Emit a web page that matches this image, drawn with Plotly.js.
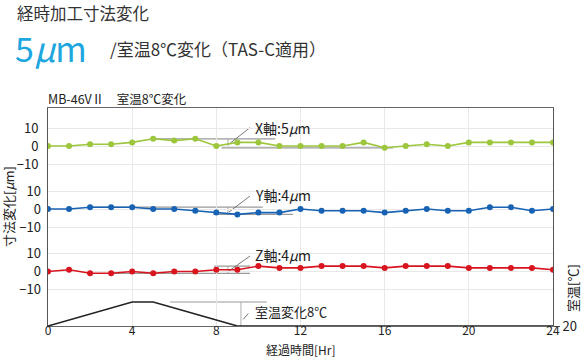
<!DOCTYPE html>
<html>
<head>
<meta charset="utf-8">
<script src="https://cdn.plot.ly/plotly-3.0.1.min.js"></script>
<style>html,body{margin:0;padding:0;background:#fff;}#chart{width:585px;height:360px;}</style>
</head>
<body>
<div id="chart"></div>
<script>
// ---- data ----
const hours = [0,1,2,3,4,5,6,7,8,9,10,11,12,13,14,15,16,17,18,19,20,21,22,23,24];
const xAxisDev = [0,0,1,1,2,4,3,4,0,2,2,0,0,0,0,2,-1,0,1,0,2,2,2,2,2];
const yAxisDev = [0,0,1,1,1,0,0,-1,-2,-3,-2,-2,0,-1,-1,-1,-2,-1,0,-1,-1,1,1,-1,0];
const zAxisDev = [0,1,-1,-1,0,-1,0,0,1,1,3,2,2,3,3,3,2,3,3,3,2,2,2,2,1];
const tempHours = [0,4,5,9,24];
const tempValues = [20,28,28,20,20];
const xTicks = [0,4,8,12,16,20,24];
const devTicks = [-10,0,10];
const tempTicks = [20];
const labels = {x:'X軸:5<i>μ</i>m', y:'Y軸:4<i>μ</i>m', z:'Z軸:4<i>μ</i>m', t:'室温変化8℃'};

// ---- layout geometry ----
const W = 585, H = 360, L = 48, R = 32, T = 108, B = 34;
const plotH = H - T - B, plotW = W - L - R;
const pxPerUnit = 1.8, pxPerDeg = 3;
function devRange(zeroPx){ // zeroPx: pixel row of 0
  const below = (H - B - zeroPx) / pxPerUnit;
  return [-below, plotH / pxPerUnit - below];
}
const FONT = '"Noto Sans CJK JP", "Noto Sans", sans-serif';
const C = {green:'#9cc63b', blue:'#1762b3', red:'#d8141f', cyan:'#1ea6df'};

function devTrace(y, color, axis){
  return {x: hours, y: y, yaxis: axis, type:'scatter', mode:'lines+markers',
    line:{color:color, width:1.6}, marker:{color:color, size:6}, hoverinfo:'skip', showlegend:false};
}
const traces = [
  devTrace(xAxisDev, C.green, 'y'),
  devTrace(yAxisDev, C.blue, 'y2'),
  devTrace(zAxisDev, C.red, 'y3'),
  {x: tempHours, y: tempValues, yaxis:'y4', type:'scatter', mode:'lines',
   line:{color:'#222', width:1.6}, hoverinfo:'skip', showlegend:false}
];

const devAxisBase = {tickvals: devTicks, ticks:'', showgrid:true, gridcolor:'#e8e8e8', gridwidth:1,
  zeroline:false, tickfont:{family:FONT, size:13, color:'#222'}, ticklabelstandoff:6, fixedrange:true};

const gray = '#9a9a9a';
function seg(x0,y0,x1,y1,yref,color,w){
  return {type:'line', xref:'x', yref:yref, x0:x0, y0:y0, x1:x1, y1:y1, line:{color:color||gray, width:w||1.2}, layer:'below'};
}
const mx = a => Math.max(...a), mn = a => Math.min(...a);
const tMax = mx(tempValues), tMin = mn(tempValues);
const shapes = [
  // X
  seg(5.0, mx(xAxisDev), 10.8, mx(xAxisDev), 'y'),
  seg(8.25, mn(xAxisDev), 16.4, mn(xAxisDev), 'y'),
  seg(8.55, mx(xAxisDev), 8.55, mn(xAxisDev), 'y', gray, 0.8),
  seg(8.6, 1, 9.6, 10.2, 'y', '#555', 0.8),
  // Y
  seg(2.0, mx(yAxisDev), 10.2, mx(yAxisDev), 'y2'),
  seg(7.85, mn(yAxisDev), 11.65, mn(yAxisDev), 'y2'),
  seg(8.55, mx(yAxisDev), 8.55, mn(yAxisDev), 'y2', gray, 0.8),
  seg(8.6, -1.7, 9.6, 7.2, 'y2', '#555', 0.8),
  // Z
  seg(7.9, mx(zAxisDev), 9.6, mx(zAxisDev), 'y3'),
  seg(2.95, mn(zAxisDev), 9.6, mn(zAxisDev), 'y3'),
  seg(8.55, mx(zAxisDev), 8.55, mn(zAxisDev), 'y3', gray, 0.8),
  seg(8.6, 0.3, 9.6, 8.6, 'y3', '#555', 0.8),
  // temperature
  seg(5.8, tMax, 10.4, tMax, 'y4'),
  seg(9.17, tMax, 9.17, tMin, 'y4', gray, 0.8),
  seg(9.28, 22.2, 9.52, 24.2, 'y4', '#555', 0.8)
];

function ann(text, x, y, yref, size, extra){
  return Object.assign({text:text, x:x, y:y, xref:'x', yref:yref, xanchor:'left', yanchor:'middle',
    showarrow:false, font:{family:FONT, size:size||14, color:'#222'}}, extra||{});
}
const px2paperX = px => (px - L) / plotW;
const px2paperY = py => (H - B - py) / plotH;
function pann(text, px, py, size, color, extra){
  return Object.assign({text:text, x:px2paperX(px), y:px2paperY(py), xref:'paper', yref:'paper',
    xanchor:'left', yanchor:'middle', showarrow:false, font:{family:FONT, size:size, color:color}}, extra||{});
}

const annotations = [
  ann(labels.x, 9.72, 10.2, 'y', 14),
  ann(labels.y, 9.72, 7.6, 'y2', 14),
  ann(labels.z, 9.72, 9.0, 'y3', 14),
  ann(labels.t, 9.72, 24.7, 'y4', 13),
  pann('経時加工寸法変化', 15, 13, 16.5, '#333'),
  pann('5<i>μ</i>m', 13, 47, 34, C.cyan),
  pann('/室温8℃変化（TAS-C適用）', 108, 48, 17, '#333'),
  pann('MB-46VⅡ　室温8℃変化', 46, 98, 12.5, '#222'),
  pann('寸法変化[<i>μ</i>m]', 8, 207, 13, '#222', {textangle:-90, xanchor:'center'}),
  pann('室温[℃]', 572, 288, 13, '#222', {textangle:-90, xanchor:'center'}),
  pann('経過時間[Hr]', L + plotW / 2, 360, 12, '#222', {xanchor:'center', yanchor:'bottom'})
];

const layout = {
  width: W, height: H, margin:{l:L, r:R, t:T, b:B, pad:0},
  paper_bgcolor:'#fff', plot_bgcolor:'#fff', showlegend:false,
  xaxis:{range:[0,24], tickvals:xTicks, ticks:'', showgrid:true, gridcolor:'#e8e8e8', zeroline:false,
    showline:true, mirror:true, linecolor:'#666', linewidth:1, ticklabelstandoff:-6,
    tickfont:{family:FONT, size:12, color:'#222'}, fixedrange:true},
  yaxis: Object.assign({}, devAxisBase, {range: devRange(146), showline:true, mirror:true, linecolor:'#555', linewidth:1}),
  yaxis2: Object.assign({}, devAxisBase, {range: devRange(209), overlaying:'y', side:'left', anchor:'x', showline:false}),
  yaxis3: Object.assign({}, devAxisBase, {range: devRange(271.5), overlaying:'y', side:'left', anchor:'x', showline:false}),
  yaxis4: {range:[20, 20 + plotH / pxPerDeg], tickvals:tempTicks, overlaying:'y', side:'right', anchor:'x',
    ticks:'outside', ticklen:6, tickcolor:'#444', showgrid:false, zeroline:false, showline:false,
    tickfont:{family:FONT, size:13, color:'#222'}, fixedrange:true},
  shapes: shapes,
  annotations: annotations
};

Plotly.newPlot('chart', traces, layout, {staticPlot:true, displayModeBar:false});
</script>
</body>
</html>
